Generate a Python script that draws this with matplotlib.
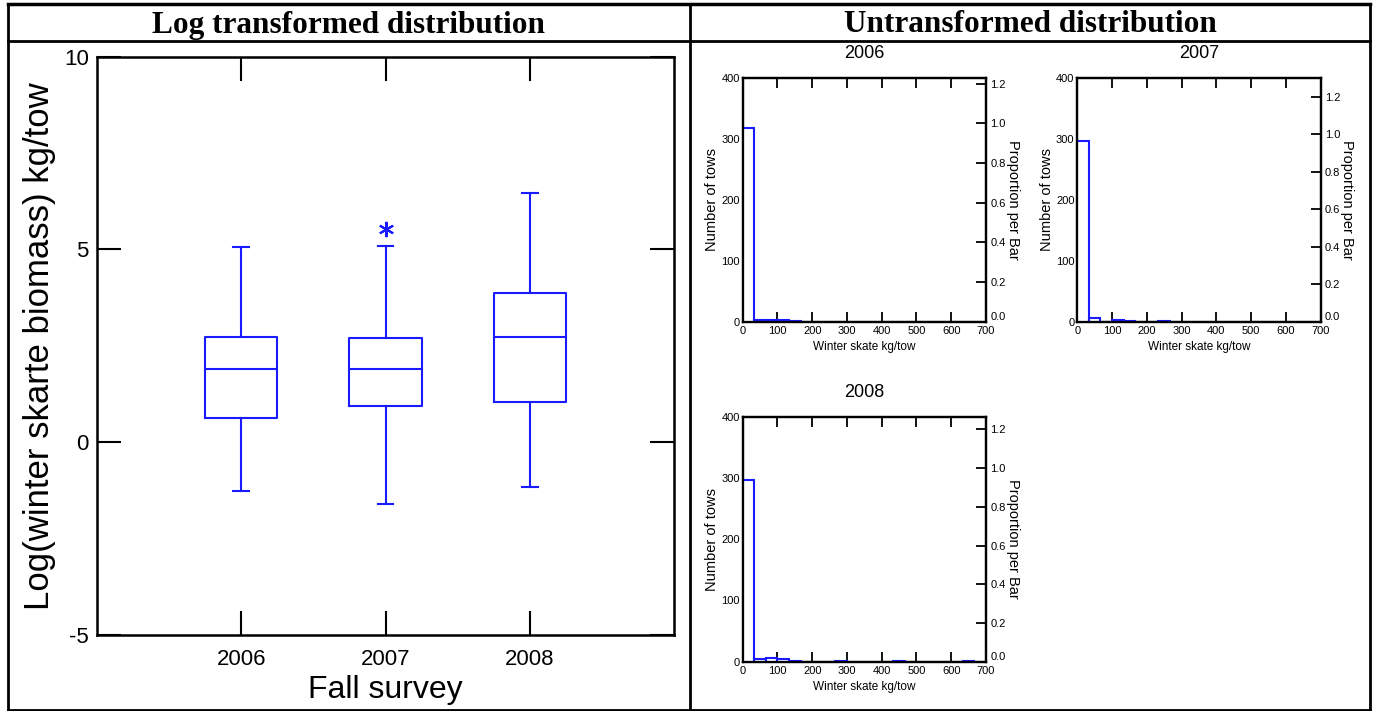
import matplotlib
matplotlib.use("Agg")
import matplotlib.pyplot as plt
from matplotlib.lines import Line2D
import numpy as np

# ---------------- data ----------------
years = ["2006", "2007", "2008"]
box_q1 = [0.62, 0.94, 1.05]
box_med = [1.91, 1.91, 2.72]
box_q3 = [2.72, 2.70, 3.87]
box_whislo = [-1.27, -1.61, -1.15]
box_whishi = [5.06, 5.09, 6.47]
box_fliers = [[], [5.54], []]

hist_bin_width = 100 / 3
hist_counts = {
    "2006": [318, 2, 2, 2, 1, 0, 0, 0, 0, 0, 0, 0, 0, 0, 0, 0, 0, 0, 0, 0, 0],
    "2007": [297, 6, 0, 2, 1, 0, 0, 1, 0, 0, 0, 0, 0, 0, 0, 0, 0, 0, 0, 0, 0],
    "2008": [297, 5, 6, 4, 1, 0, 0, 0, 1, 0, 0, 0, 0, 1, 0, 0, 0, 0, 0, 1, 0],
}
hist_xticks = [0, 100, 200, 300, 400, 500, 600, 700]
hist_yticks = [0, 100, 200, 300, 400]
prop_ticks = [0.0, 0.2, 0.4, 0.6, 0.8, 1.0, 1.2]
box_yticks = [-5, 0, 5, 10]

BLUE = "#1a1aff"
W, H = 1375, 711

plt.rcParams["font.family"] = ["Liberation Sans", "DejaVu Sans"]
plt.rcParams["axes.unicode_minus"] = False
fig = plt.figure(figsize=(W / 100, H / 100), dpi=100)


def px(l, t, r, b):
    return [l / W, 1 - b / H, (r - l) / W, (b - t) / H]


# ---------------- table frame ----------------
def fline(x0, y0, x1, y1, lw=2.0):
    fig.add_artist(Line2D([x0 / W, x1 / W], [1 - y0 / H, 1 - y1 / H],
                          transform=fig.transFigure, color="black", lw=lw,
                          solid_capstyle="projecting"))


fline(7.5, 3.5, 1370, 3.5, 2.5)
fline(7.5, 709.5, 1370, 709.5)
fline(7.5, 3.5, 7.5, 709.5)
fline(1370, 3.5, 1370, 709.5)
fline(7.5, 41.3, 1370, 41.3)
fline(689.5, 3.5, 689.5, 709.5)

fig.text(348 / W, 1 - 25 / H, "Log transformed distribution", ha="center", va="center",
         family=["Liberation Serif", "DejaVu Serif"], weight="bold", fontsize=22.5)
fig.text(1030 / W, 1 - 25 / H, "Untransformed distribution", ha="center", va="center",
         family=["Liberation Serif", "DejaVu Serif"], weight="bold", fontsize=22.5)

# ---------------- box plot ----------------
ax = fig.add_axes(px(97, 56.7, 674, 635))
stats = []
for i, y in enumerate(years):
    stats.append(dict(label=y, q1=box_q1[i], med=box_med[i], q3=box_q3[i],
                      whislo=box_whislo[i], whishi=box_whishi[i], fliers=box_fliers[i]))
positions = np.arange(1, len(years) + 1)
lw = 1.5
ax.bxp(stats, positions=positions, widths=0.5, capwidths=0.11,
       boxprops=dict(color=BLUE, lw=lw), whiskerprops=dict(color=BLUE, lw=lw),
       capprops=dict(color=BLUE, lw=lw), medianprops=dict(color=BLUE, lw=lw),
       flierprops=dict(marker=(6, 2, 0), markersize=11, markeredgecolor=BLUE,
                       markerfacecolor=BLUE, markeredgewidth=1.5, linestyle="none"))
ax.set_xlim(0, len(years) + 1)
ax.set_ylim(-5, 10)
ax.set_yticks(box_yticks)
ax.set_xticks(positions)
ax.set_xticklabels(years)
ax.tick_params(direction="in", length=17, width=1.5, top=True, right=True,
               labelsize=16)
ax.tick_params(axis="x", pad=10)
ax.tick_params(axis="y", pad=6)
for s in ax.spines.values():
    s.set_linewidth(1.8)
ax.set_ylabel("Log(winter skarte biomass) kg/tow", fontsize=25)
ax.yaxis.set_label_coords(-0.099, 0.5)
ax.yaxis.label.set_va("center")
ax.set_xlabel("Fall survey", fontsize=23)
ax.xaxis.set_label_coords(0.5, -0.095)
ax.xaxis.label.set_va("center")

# ---------------- histograms ----------------
hist_pos = {
    "2006": (742.7, 77.7, 986, 321.7),
    "2007": (1077.3, 77.7, 1320.7, 321.7),
    "2008": (742.7, 416.7, 986, 661.7),
}
for y in years:
    counts = np.array(hist_counts[y])
    n = counts.sum()
    l, t, r, b = hist_pos[y]
    hx = fig.add_axes(px(l, t, r, b))
    edges = np.arange(len(counts)) * hist_bin_width
    hx.bar(edges, counts, width=hist_bin_width, align="edge", facecolor="white",
           edgecolor=BLUE, linewidth=1.5, zorder=3)
    hx.set_xlim(0, 700)
    hx.set_ylim(0, 400)
    hx.set_xticks(hist_xticks)
    hx.set_yticks(hist_yticks)
    hx.tick_params(axis="x", direction="in", length=7, width=1.3, top=True,
                   labelsize=8, pad=3)
    hx.tick_params(axis="y", direction="in", length=0, labelsize=8, pad=2)
    for s in hx.spines.values():
        s.set_linewidth(1.6)
    hx.set_xlabel("Winter skate kg/tow", fontsize=8.5)
    hx.xaxis.set_label_coords(0.5, -0.104)
    hx.xaxis.label.set_va("center")
    hx.set_ylabel("Number of tows", fontsize=10.5)
    hx.yaxis.set_label_coords(-0.125, 0.5)
    hx.yaxis.label.set_va("center")
    hx.text(0.5, 1 + 24 / 244, y, transform=hx.transAxes, ha="center", va="center",
            fontsize=13)

    h2 = hx.twinx()
    h2.set_ylim(0, 400 / n)
    h2.set_yticks(prop_ticks)
    h2.set_yticklabels([f"{v:.1f}" for v in prop_ticks])
    h2.tick_params(axis="y", direction="in", length=7, width=1.3, labelsize=8, pad=3)
    for lab in h2.get_yticklabels()[:1]:
        lab.set_va("bottom")
    for s in h2.spines.values():
        s.set_linewidth(1.6)
    h2.set_ylabel("Proportion per Bar", fontsize=10.5, rotation=270)
    h2.yaxis.set_label_coords(1.11, 0.5)
    h2.yaxis.label.set_va("center")

fig.savefig("out.png", dpi=100)
